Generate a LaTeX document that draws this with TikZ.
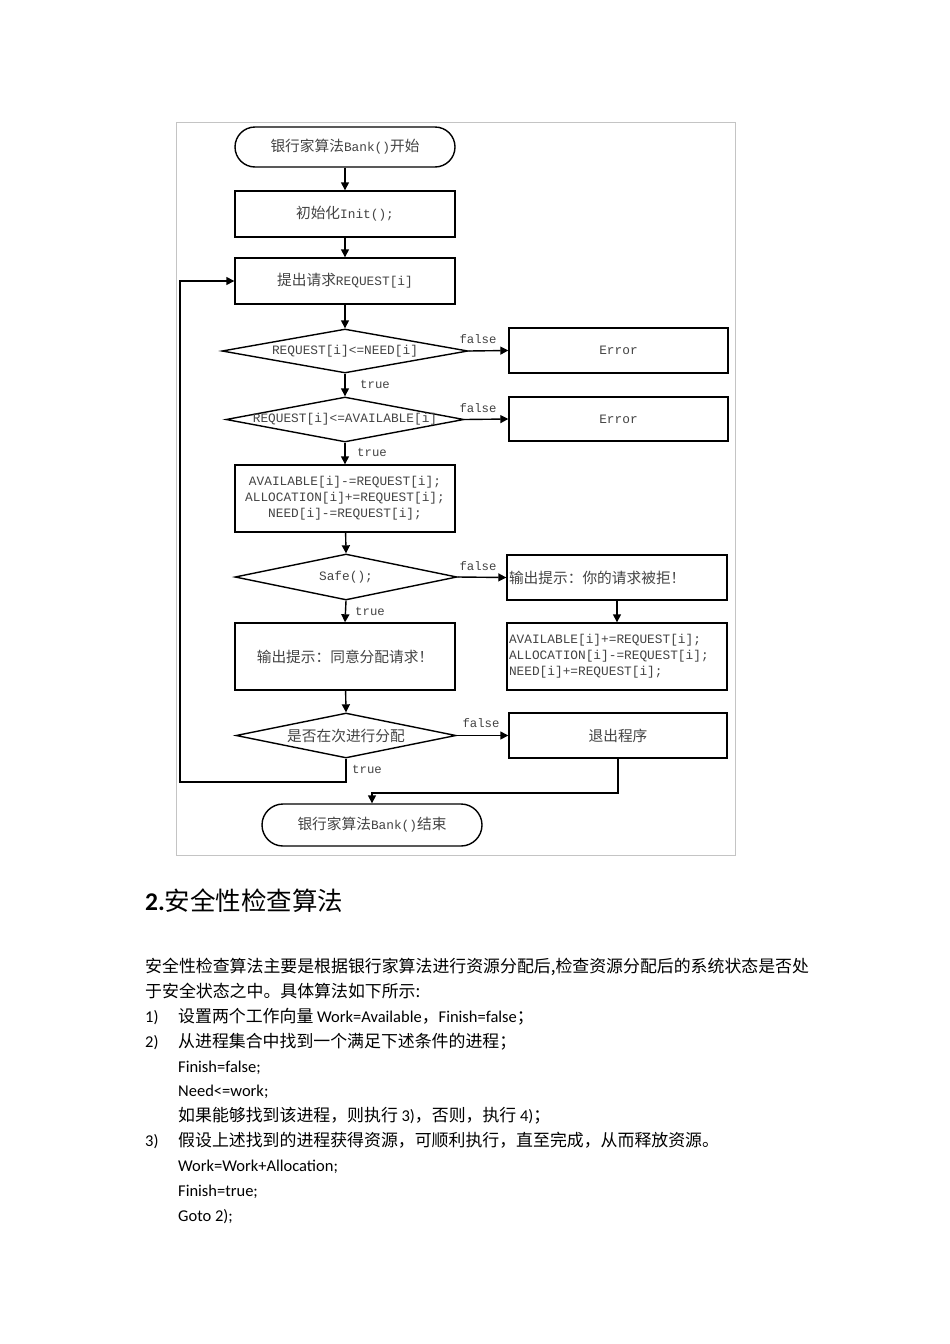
\documentclass[tikz,border=0pt]{standalone}
\usepackage{fontspec}
\setmainfont{Carlito}
\newfontfamily\zh{Noto Sans CJK SC}
\newfontfamily\mono{Liberation Mono}
\usetikzlibrary{shapes.geometric,arrows.meta}
\definecolor{txtgray}{HTML}{444444}
\definecolor{framegray}{HTML}{C4C4C4}
\newcommand\dfont{\fontsize{12.8}{16}\selectfont\mono}
\newcommand\zhd[1]{{\zh\fontsize{14.7}{16}\selectfont #1}}
\newcommand\pfont{\fontsize{16.5}{20}\selectfont}
\newcommand\zhp{\zh\fontsize{16.9}{20}\selectfont}
\begin{document}
\begin{tikzpicture}[x=1pt,y=-1pt,
  box/.style={draw=black,line width=1.4pt,minimum width=220pt,minimum height=46pt,inner sep=0pt,font=\dfont,text=txtgray,align=center},
  term/.style={box,rounded corners=20pt,minimum height=40pt},
  dec/.style={draw=black,line width=1.4pt,diamond,inner sep=0pt},
  dlab/.style={font=\dfont,text=txtgray,inner sep=0pt},
  arr/.style={line width=1.4pt,-{Triangle[length=8pt,width=8pt]}},
  lab/.style={font=\fontsize{12.3}{13}\selectfont\mono,text=txtgray,inner sep=0pt},
  ptext/.style={anchor=base west,inner sep=0pt,font=\pfont,text=black}]
\fill[white] (0,0) rectangle (950,1344);
\useasboundingbox (0,0) rectangle (950,1344);
% frame of the picture
\draw[framegray,line width=1pt] (176,122) rectangle (735,855);

% nodes
\node[term] (start) at (345,147) {\zhd{银行家算法}Bank()\zhd{开始}};
\node[box] (init) at (345,214) {\zhd{初始化}Init();};
\node[box] (req) at (345,281) {\zhd{提出请求}REQUEST[i]};
\node[dec,minimum width=246pt,minimum height=44pt,label={[dlab]center:{REQUEST[i]<=NEED[i]}}] (d1) at (345,351) {};
\node[box,minimum width=219pt,minimum height=45pt] (err1) at (618.5,350.5) {Error};
\node[dec,minimum width=238pt,minimum height=45pt,label={[dlab]center:{REQUEST[i]<=AVAILABLE[i]}}] (d2) at (345,419.5) {};
\node[box,minimum width=219pt,minimum height=44pt] (err2) at (618.5,419) {Error};
\node[box,minimum height=67pt] (upd) at (345,498.5) {AVAILABLE[i]-=REQUEST[i];\\ALLOCATION[i]+=REQUEST[i];\\NEED[i]-=REQUEST[i];};
\node[dec,minimum width=222pt,minimum height=46pt,label={[dlab]center:{Safe();}}] (safe) at (346,577) {};
\node[box,minimum height=45pt,text width=216pt,align=left] (refuse) at (617,577.5) {\zhd{输出提示：你的请求被拒！}};
\node[box,minimum height=67pt,text width=216pt,align=left] (roll) at (617,656.5) {AVAILABLE[i]+=REQUEST[i];\\ALLOCATION[i]-=REQUEST[i];\\NEED[i]+=REQUEST[i];};
\node[box,minimum height=67pt] (accept) at (345,656.5) {\zhd{输出提示：同意分配请求！}};
\node[dec,minimum width=220pt,minimum height=45pt,label={[dlab]center:{\zhd{是否在次进行分配}}}] (d4) at (346,735.5) {};
\node[box,minimum width=218pt,minimum height=45pt] (exit) at (618,735.5) {\zhd{退出程序}};
\node[term,minimum height=42pt,rounded corners=21pt] (end) at (372,825) {\zhd{银行家算法}Bank()\zhd{结束}};

\coordinate (loopc) at (180,782);
\coordinate (endc) at (372,793);

% connectors
\draw[arr] (start) -- (init);
\draw[arr] (init) -- (req);
\draw[arr] (req) -- (d1);
\draw[arr] (d1.east) -- (err1.west);
\draw[arr] (d1.south) -- (d2.north);
\draw[arr] (d2.east) -- (err2.west);
\draw[arr] (d2.south) -- (upd.north);
\draw[arr] (upd) -- (safe.north);
\draw[arr] (safe.east) -- (refuse.west);
\draw[arr] (safe.south) -- (accept.north);
\draw[arr] (refuse) -- (roll);
\draw[arr] (accept) -- (d4.north);
\draw[arr] (d4.east) -- (exit.west);
\draw[arr] (d4.south) |- (loopc) |- (req.west);
\draw[arr] (exit.south) |- (endc) -- (end.north);

% labels
\node[lab] (f1) at (478,339) {false};
\node[lab] (t1) at (375,384) {true};
\node[lab] (f2) at (478,408) {false};
\node[lab] (t2) at (372,452) {true};
\node[lab] (f3) at (478,566) {false};
\node[lab] (t3) at (370,611) {true};
\node[lab] (f4) at (481,723) {false};
\node[lab] (t4) at (367,769) {true};

% text below
\node[anchor=base west,inner sep=0pt] (head) at (145,910) {\fontsize{25.5}{30}\selectfont\bfseries 2.{\zh\mdseries 安全性检查算法}};
\node[ptext] (p1) at (145,972) {\zhp 安全性检查算法主要是根据银行家算法进行资源分配后,检查资源分配后的系统状态是否处};
\node[ptext] (p2) at (145,997) {\zhp 于安全状态之中。具体算法如下所示:};
\node[ptext] (n1) at (145,1022) {1)};
\node[ptext] (p3) at (178,1022) {{\zhp 设置两个工作向量} Work=Available{\zhp ，}Finish=false{\zhp ；}};
\node[ptext] (n2) at (145,1047) {2)};
\node[ptext] (p4) at (178,1047) {\zhp 从进程集合中找到一个满足下述条件的进程；};
\node[ptext] (p5) at (178,1072) {Finish=false;};
\node[ptext] (p6) at (178,1096) {Need<=work;};
\node[ptext] (p7) at (178,1121) {{\zhp 如果能够找到该进程，则执行} 3){\zhp ，否则，执行} 4){\zhp ；}};
\node[ptext] (n3) at (145,1146) {3)};
\node[ptext] (p8) at (178,1146) {\zhp 假设上述找到的进程获得资源，可顺利执行，直至完成，从而释放资源。};
\node[ptext] (p9) at (178,1171) {Work=Work+Allocation;};
\node[ptext] (p10) at (178,1196) {Finish=true;};
\node[ptext] (p11) at (178,1221) {Goto 2);};
\end{tikzpicture}
\end{document}
